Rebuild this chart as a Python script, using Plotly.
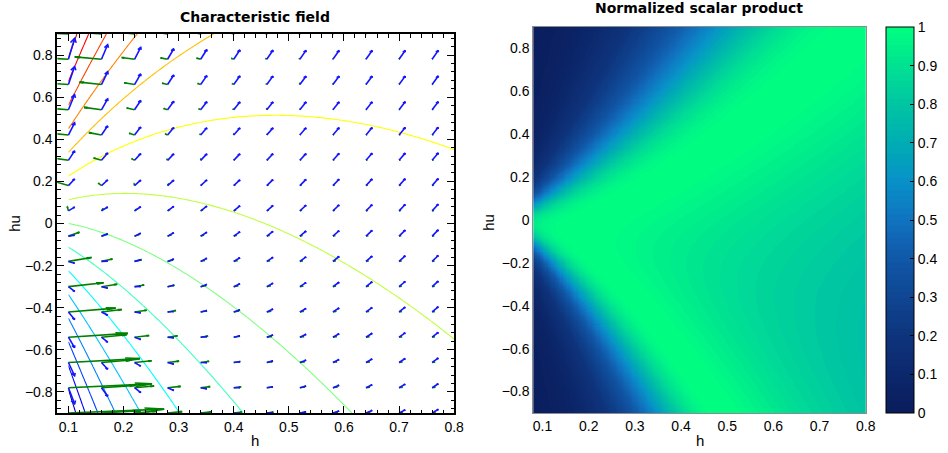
import numpy as np
import plotly.graph_objects as go

# Shallow-water system in conserved variables (h, hu)
g = 9.81

# Quiver sample points
h_arrows = [0.10, 0.16, 0.22, 0.28, 0.34, 0.40, 0.46, 0.52, 0.58, 0.64, 0.70, 0.76]
hu_arrows = [-0.90, -0.78, -0.66, -0.54, -0.42, -0.30, -0.18, -0.06,
             0.06, 0.18, 0.30, 0.42, 0.54, 0.66, 0.78, 0.90]

# Grids for the lambda_2 level lines and for the scalar-product map
h_contour = np.linspace(0.10, 0.80, 141)
hu_contour = np.linspace(-0.90, 0.90, 181)
n_levels = 15
h_map = np.linspace(0.08, 0.80, 289)
hu_map = np.linspace(-0.90, 0.90, 361)

h_range = [0.08, 0.80]
hu_range = [-0.90, 0.90]
x_ticks = [0.1, 0.2, 0.3, 0.4, 0.5, 0.6, 0.7, 0.8]
y_ticks = [-0.8, -0.6, -0.4, -0.2, 0.0, 0.2, 0.4, 0.6, 0.8]
cbar_ticks = [0, 0.1, 0.2, 0.3, 0.4, 0.5, 0.6, 0.7, 0.8, 0.9, 1.0]

# colour anchors of the map palette (value, r, g, b)
palette = [(0.00, 10, 28, 92), (0.20, 14, 52, 125), (0.40, 16, 88, 168),
           (0.50, 16, 115, 192), (0.60, 8, 145, 200), (0.70, 0, 172, 180),
           (0.80, 0, 198, 162), (0.90, 0, 226, 145), (1.00, 0, 255, 128)]


def lambda2(h, hu):
    return hu / h + np.sqrt(g * h)


def r2(h, hu):
    u = hu / h
    c = np.sqrt(g * h)
    return np.ones_like(u), u + c


def grad_lambda2(h, hu):
    u = hu / h
    c = np.sqrt(g * h)
    return (-u + 0.5 * c) / h, 1.0 / h


def quiver_segments(X, Y, U, V, factor=1.0, arrowsize=0.2):
    """Autoscaled quiver (arrows fit in the grid), returned as line paths."""
    nx, ny = len(h_arrows), len(hu_arrows)
    dx = (X.max() - X.min()) / nx
    dy = (Y.max() - Y.min()) / ny
    s = 0.9 * factor * np.sqrt(dx ** 2 + dy ** 2) / np.sqrt(U ** 2 + V ** 2).max()
    U, V = U * s, V * s
    xs, ys = [], []
    for x, y, u, v in zip(X.ravel(), Y.ravel(), U.ravel(), V.ravel()):
        xe, ye = x + u, y + v
        xt, yt = x + u * (1 - arrowsize), y + v * (1 - arrowsize)
        xa1 = xt + (y - yt) * arrowsize / 3
        xa2 = xt - (y - yt) * arrowsize / 3
        ya1 = yt - (x - xt) * arrowsize / 3
        ya2 = yt + (x - xt) * arrowsize / 3
        xs += [x, xe, None, xa1, xe, xa2, None]
        ys += [y, ye, None, ya1, ye, ya2, None]
    return xs, ys


def jet(t):
    r = np.clip(min(4 * t - 1.5, -4 * t + 4.5), 0, 1)
    gg = np.clip(min(4 * t - 0.5, -4 * t + 3.5), 0, 1)
    b = np.clip(min(4 * t + 0.5, -4 * t + 2.5), 0, 1)
    return f"rgb({int(round(255 * r))},{int(round(255 * gg))},{int(round(255 * b))})"


def palette_color(t):
    vals = [p[0] for p in palette]
    rgb = [int(round(np.interp(t, vals, [p[i] for p in palette]))) for i in (1, 2, 3)]
    return f"rgb({rgb[0]},{rgb[1]},{rgb[2]})"


# 64-entry stepped colour map
ncol = 64
colorscale = []
for i in range(ncol):
    col = palette_color((i + 0.5) / ncol)
    colorscale.append([i / ncol, col])
    colorscale.append([(i + 1) / ncol, col])

fig = go.Figure()

# ---- left panel: level lines of lambda_2 and the two vector fields ----
HC, HUC = np.meshgrid(h_contour, hu_contour)
LAM = lambda2(HC, HUC)
lmin, lmax = LAM.min(), LAM.max()
for k in range(1, n_levels + 1):
    level = lmin + k * (lmax - lmin) / (n_levels + 1)
    fig.add_trace(go.Contour(
        x=h_contour, y=hu_contour, z=LAM,
        contours=dict(start=level, end=level, size=1.0, coloring="none"),
        line=dict(color=jet(k / (n_levels + 1)), width=1.1),
        showscale=False, hoverinfo="skip", xaxis="x", yaxis="y"))

HA, HUA = np.meshgrid(np.array(h_arrows), np.array(hu_arrows))
GX, GY = grad_lambda2(HA, HUA)
gx, gy = quiver_segments(HA, HUA, GX, GY, factor=1.55)
fig.add_trace(go.Scatter(x=gx, y=gy, mode="lines",
                         line=dict(color="rgb(0,128,0)", width=1.6),
                         hoverinfo="skip", showlegend=False, xaxis="x", yaxis="y"))

RX, RY = r2(HA, HUA)
bx, by = quiver_segments(HA, HUA, RX, RY)
fig.add_trace(go.Scatter(x=bx, y=by, mode="lines",
                         line=dict(color="rgb(20,20,255)", width=1.6),
                         hoverinfo="skip", showlegend=False, xaxis="x", yaxis="y"))

# ---- right panel: normalized scalar product grad(lambda_2) . r_2 ----
HM, HUM = np.meshgrid(h_map, hu_map)
ax_, ay_ = grad_lambda2(HM, HUM)
bx_, by_ = r2(HM, HUM)
cosine = (ax_ * bx_ + ay_ * by_) / (np.hypot(ax_, ay_) * np.hypot(bx_, by_))

fig.add_trace(go.Heatmap(
    x=h_map, y=hu_map, z=cosine, zmin=0, zmax=1, colorscale=colorscale,
    hoverinfo="skip", xaxis="x2", yaxis="y2",
    colorbar=dict(
        x=895 / 948, xanchor="left", xpad=0,
        y=1 - 413 / 453, yanchor="bottom", ypad=0,
        len=386 / 453, lenmode="fraction",
        thickness=28, thicknessmode="pixels",
        outlinewidth=1, outlinecolor="black",
        tickvals=cbar_ticks, ticktext=[f"{v:g}" for v in cbar_ticks],
        ticks="inside", ticklen=4, tickcolor="black",
        tickfont=dict(family="Liberation Sans", size=14, color="black"))))

W, H = 948, 453
tick_font = dict(family="Liberation Sans", size=14, color="black")
left_x = dict(domain=[58 / W, 459 / W], range=h_range, tickvals=x_ticks,
              showline=True, linecolor="black", linewidth=2, mirror="allticks",
              ticks="inside", ticklen=7, tickwidth=1.3, tickcolor="black",
              minor=dict(dtick=0.02, tick0=0.0, ticks="inside", ticklen=3.5,
                         tickcolor="black", tickwidth=1),
              showgrid=False, zeroline=False, tickfont=tick_font, anchor="y")
left_y = dict(domain=[1 - 413 / H, 1 - 34 / H], range=hu_range, tickvals=y_ticks,
              showline=True, linecolor="black", linewidth=2, mirror="allticks",
              ticks="inside", ticklen=7, tickwidth=1.3, tickcolor="black",
              minor=dict(dtick=0.04, tick0=0.0, ticks="inside", ticklen=3.5,
                         tickcolor="black", tickwidth=1),
              showgrid=False, zeroline=False, tickfont=tick_font, anchor="x")
right_x = dict(domain=[539 / W, 875 / W], range=h_range, tickvals=x_ticks,
               showline=True, linecolor="#8c8c8c", linewidth=1, mirror=True,
               ticks="", showgrid=False, zeroline=False, tickfont=tick_font,
               anchor="y2")
right_y = dict(domain=[1 - 413 / H, 1 - 27 / H], range=hu_range, tickvals=y_ticks,
               showline=True, linecolor="#8c8c8c", linewidth=1, mirror=True,
               ticks="", showgrid=False, zeroline=False, tickfont=tick_font,
               anchor="x2")

title_font = dict(family="DejaVu Sans", size=14, color="black")
label_font = dict(family="Liberation Sans", size=15, color="black")
annotations = [
    dict(text="<b>Characteristic field</b>", x=258 / W, y=1 - 17 / H, font=title_font),
    dict(text="<b>Normalized scalar product</b>", x=706 / W, y=1 - 8 / H, font=title_font),
    dict(text="h", x=258 / W, y=1 - 440 / H, font=label_font),
    dict(text="h", x=707 / W, y=1 - 440 / H, font=label_font),
    dict(text="hu", x=14 / W, y=1 - 223 / H, textangle=-90, font=label_font),
    dict(text="hu", x=493 / W, y=1 - 222 / H, textangle=-90, font=label_font),
]
for a in annotations:
    a.update(xref="paper", yref="paper", showarrow=False, xanchor="center", yanchor="middle")

fig.update_layout(
    width=W, height=H, margin=dict(l=0, r=0, t=0, b=0),
    paper_bgcolor="white", plot_bgcolor="white", showlegend=False,
    xaxis=left_x, yaxis=left_y, xaxis2=right_x, yaxis2=right_y,
    annotations=annotations)

fig.write_html("out.html")
